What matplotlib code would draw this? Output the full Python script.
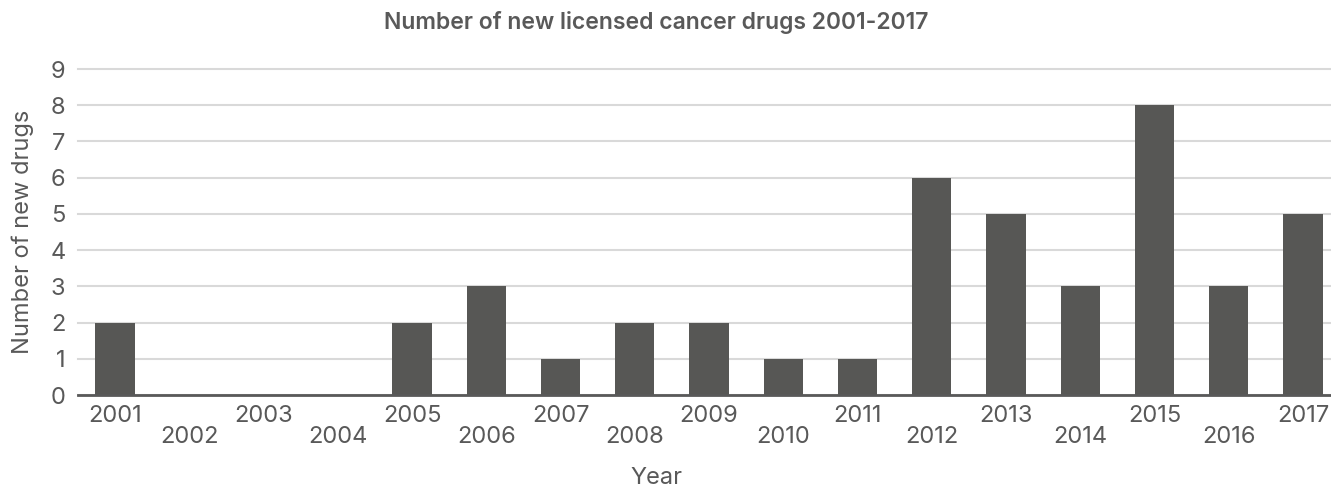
import matplotlib.pyplot as plt
import numpy as np

plt.rcParams['font.family'] = ['Inter', 'DejaVu Sans']

years = ["2001", "2002", "2003", "2004", "2005", "2006", "2007", "2008", "2009",
         "2010", "2011", "2012", "2013", "2014", "2015", "2016", "2017"]
new_drugs = [2, 0, 0, 0, 2, 3, 1, 2, 2, 1, 1, 6, 5, 3, 8, 3, 5]

bar_color = "#575755"
text_color = "#595959"
grid_color = "#d9d9d9"

fig = plt.figure(figsize=(13.31, 4.88), dpi=100)
# axes slightly wider than the figure, as the original is cropped on the right
ax = fig.add_axes([78 / 1331, 93 / 488, (1340 - 78) / 1331, 326 / 488])

x = np.arange(len(years))
ax.bar(x, new_drugs, width=0.53, color=bar_color, zorder=3)

ax.set_xlim(-0.5, len(years) - 0.5)
ax.set_ylim(0, 9)
ax.set_yticks(range(0, 10))
ax.yaxis.grid(True, color=grid_color, linewidth=1.5, zorder=0)
ax.set_axisbelow(True)
for gl in ax.get_ygridlines():
    gl.set_clip_on(False)

for s in ["top", "right", "left"]:
    ax.spines[s].set_visible(False)
ax.spines["bottom"].set_color(text_color)
ax.spines["bottom"].set_linewidth(2)
ax.spines["bottom"].set_zorder(4)

# staggered year labels: even positions as major ticks, odd as minor ticks
ax.set_xticks(x[0::2])
ax.set_xticklabels(years[0::2])
ax.set_xticks(x[1::2], minor=True)
ax.set_xticklabels(years[1::2], minor=True)
ax.tick_params(axis="x", which="major", length=0, pad=7, labelsize=17, labelcolor=text_color)
ax.tick_params(axis="x", which="minor", length=0, pad=22, labelsize=17, labelcolor=text_color)
ax.tick_params(axis="y", length=0, pad=9, labelsize=17, labelcolor=text_color)

ax.set_ylabel("Number of new drugs", fontsize=17, color=text_color, labelpad=12)
fig.text(656 / 1331, 1 - 478 / 488, "Year", ha="center", va="center", fontsize=17, color=text_color)
fig.text(656 / 1331, 1 - 22 / 488, "Number of new licensed cancer drugs 2001-2017",
         ha="center", va="center", fontsize=16.5, fontweight="semibold", color=text_color)

fig.savefig("out.png", dpi=100)
